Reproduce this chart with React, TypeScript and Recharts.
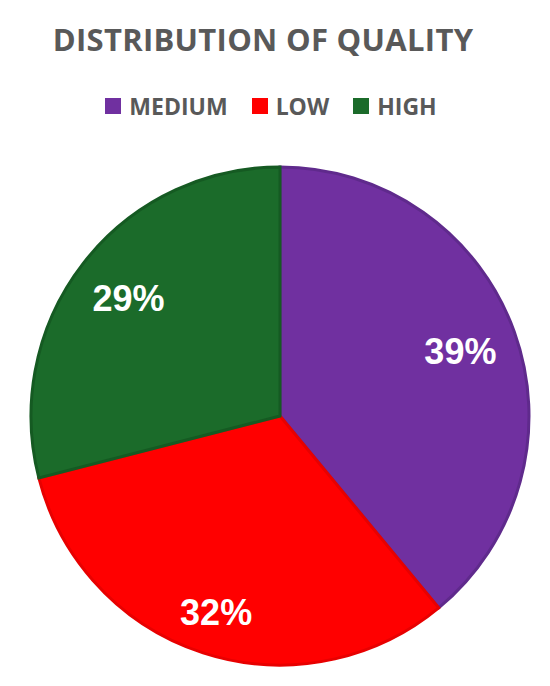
import React from 'react';
import { PieChart, Pie, Cell } from 'recharts';

const categories = ['MEDIUM', 'LOW', 'HIGH'];
const shares = [39, 32, 29];
const fills = ['#7030A0', '#FF0000', '#1B6B2A'];
const strokes = ['#5F2A8C', '#E80000', '#155A22'];

const rows = categories.map((name, i) => ({ name, value: shares[i] }));

const RADIAN = Math.PI / 180;

const renderLabel = (props: any) => {
  const { cx, cy, midAngle, outerRadius, value, index } = props;
  const r = outerRadius * (index === 1 ? 0.83 : 0.77);
  const x = cx + r * Math.cos(-midAngle * RADIAN);
  const y = cy + r * Math.sin(-midAngle * RADIAN);
  return (
    <text
      x={x}
      y={y}
      fill="#ffffff"
      textAnchor="middle"
      dominantBaseline="central"
      fontFamily="'Liberation Sans', Arial, sans-serif"
      fontWeight="bold"
      fontSize={36}
    >
      {`${value}%`}
    </text>
  );
};

const LegendRow = () => (
  <div
    style={{
      position: 'absolute',
      top: 90,
      left: 0,
      width: 550,
      display: 'flex',
      justifyContent: 'center',
      gap: 24,
      paddingRight: 8,
      boxSizing: 'border-box',
      fontFamily: "'Open Sans', sans-serif",
      fontWeight: 700,
      fontSize: 23,
      color: '#595959',
    }}
  >
    {categories.map((c, i) => (
      <div key={c} style={{ display: 'flex', alignItems: 'center', gap: 8 }}>
        <span style={{ width: 16, height: 16, background: fills[i], display: 'inline-block' }} />
        <span>{c}</span>
      </div>
    ))}
  </div>
);

const App = () => (
  <div
    style={{
      position: 'absolute',
      left: 0,
      top: 0,
      width: 550,
      height: 686,
      background: '#ffffff',
    }}
  >
    <div
      style={{
        position: 'absolute',
        top: 18,
        left: 0,
        width: 550,
        paddingRight: 24,
        boxSizing: 'border-box',
        textAlign: 'center',
        fontFamily: "'Open Sans', sans-serif",
        fontWeight: 700,
        fontSize: 31,
        letterSpacing: 0.3,
        color: '#595959',
      }}
    >
      DISTRIBUTION OF QUALITY
    </div>
    <LegendRow />
    <PieChart
      width={550}
      height={686}
      margin={{ top: 0, right: 0, bottom: 0, left: 0 }}
      style={{ position: 'absolute', left: 0, top: 0 }}
    >
      <Pie
        data={rows}
        dataKey="value"
        nameKey="name"
        cx={280}
        cy={416}
        outerRadius={249}
        startAngle={90}
        endAngle={-270}
        label={renderLabel}
        labelLine={false}
        isAnimationActive={false}
      >
        {rows.map((r, i) => (
          <Cell key={r.name} fill={fills[i]} stroke={strokes[i]} strokeWidth={3} />
        ))}
      </Pie>
    </PieChart>
  </div>
);

export default App;
